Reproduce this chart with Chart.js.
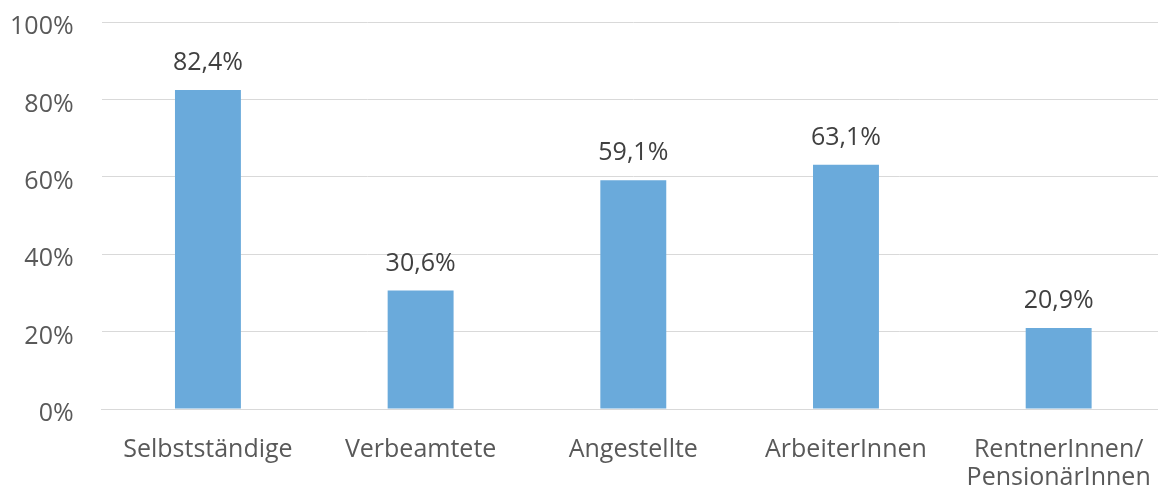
<!DOCTYPE html>
<html>
<head>
<meta charset="utf-8">
<script src="https://cdn.jsdelivr.net/npm/chart.js@4"></script>
<style>
  html, body { margin: 0; padding: 0; background: #fff; overflow: hidden; }
  #wrap { width: 1170px; height: 492px; }
</style>
</head>
<body>
<div id="wrap"><canvas id="c" width="1170" height="492"></canvas></div>
<script>
const categories = ["Selbstständige", "Verbeamtete", "Angestellte", "ArbeiterInnen", ["RentnerInnen/", "PensionärInnen"]];
const values = [82.4, 30.6, 59.1, 63.1, 20.9];
const yTicks = [0, 20, 40, 60, 80, 100];

const FONT = "'Open Sans', 'DejaVu Sans', sans-serif";

const valueLabels = {
  id: 'valueLabels',
  afterDatasetsDraw(chart) {
    const ctx = chart.ctx;
    const meta = chart.getDatasetMeta(0);
    ctx.save();
    ctx.font = "25px " + FONT;
    ctx.fillStyle = '#404040';
    ctx.textAlign = 'center';
    ctx.textBaseline = 'alphabetic';
    meta.data.forEach((bar, i) => {
      const v = chart.data.datasets[0].data[i];
      ctx.fillText(v.toFixed(1).replace('.', ',') + '%', bar.x, bar.y - 20);
    });
    ctx.restore();
  }
};

new Chart(document.getElementById('c'), {
  type: 'bar',
  data: {
    labels: categories,
    datasets: [{
      data: values,
      backgroundColor: '#6aaadb',
      borderWidth: 0,
      categoryPercentage: 1,
      barPercentage: 0.31
    }]
  },
  options: {
    responsive: false,
    devicePixelRatio: 1,
    animation: false,
    layout: { padding: { top: 22, right: 5, left: 0, bottom: 0 } },
    plugins: { legend: { display: false }, tooltip: { enabled: false } },
    scales: {
      x: {
        grid: { display: false, drawTicks: false },
        border: { display: true, color: '#d9d9d9', width: 1 },
        ticks: {
          autoSkip: false, maxRotation: 0, minRotation: 0,
          padding: 26,
          color: '#595959',
          font: { family: FONT, size: 25, lineHeight: 1.15 }
        },
        afterFit(scale) {
          scale.height = 83;
          scale.paddingLeft = 0; scale.paddingRight = 0;
        }
      },
      y: {
        min: 0, max: 100,
        afterBuildTicks(scale) { scale.ticks = yTicks.map(v => ({ value: v })); },
        grid: { color: '#d9d9d9', lineWidth: 1, drawTicks: false },
        border: { display: false },
        ticks: {
          padding: 28,
          labelOffset: 5,
          color: '#595959',
          font: { family: FONT, size: 25 },
          callback: v => v + '%'
        },
        afterFit(scale) {
          scale.width = 101.6;
          scale.paddingTop = 0; scale.paddingBottom = 0;
        }
      }
    }
  },
  plugins: [valueLabels]
});
</script>
</body>
</html>
